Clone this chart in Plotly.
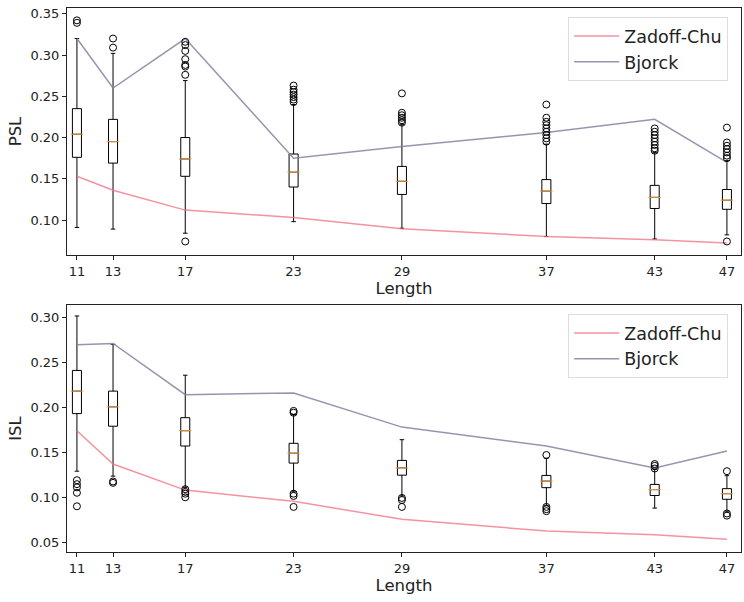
import plotly.graph_objects as go
from plotly.subplots import make_subplots

LENGTHS = [11, 13, 17, 23, 29, 37, 43, 47]

# PSL box statistics
PSL_LOW = [0.091, 0.089, 0.084, 0.098, 0.090, 0.080, 0.077, 0.082]
PSL_Q1 = [0.176, 0.169, 0.153, 0.140, 0.131, 0.120, 0.114, 0.113]
PSL_MED = [0.204, 0.195, 0.174, 0.158, 0.147, 0.135, 0.1275, 0.124]
PSL_Q3 = [0.235, 0.222, 0.200, 0.180, 0.165, 0.149, 0.142, 0.137]
PSL_HIGH = [0.320, 0.302, 0.269, 0.240, 0.216, 0.192, 0.182, 0.172]
PSL_OUT = [
    [0.342, 0.339],
    [0.320, 0.309],
    [0.316, 0.312, 0.305, 0.295, 0.288, 0.286, 0.276, 0.074],
    [0.263, 0.258, 0.255, 0.252, 0.249, 0.246, 0.243],
    [0.2535, 0.230, 0.227, 0.224, 0.221, 0.218],
    [0.240, 0.224, 0.219, 0.215, 0.211, 0.207, 0.203, 0.199, 0.195],
    [0.211, 0.207, 0.203, 0.199, 0.195, 0.191, 0.187, 0.184],
    [0.212, 0.194, 0.190, 0.186, 0.182, 0.178, 0.175, 0.074],
]
PSL_ZC = [0.153, 0.136, 0.112, 0.103, 0.0895, 0.080, 0.076, 0.072]
PSL_BJ = [0.320, 0.260, 0.320, 0.175, 0.189, 0.206, 0.222, 0.170]

# ISL box statistics
ISL_LOW = [0.129, 0.1235, 0.111, 0.106, 0.1015, 0.091, 0.088, 0.0838]
ISL_Q1 = [0.193, 0.179, 0.157, 0.138, 0.1246, 0.1107, 0.102, 0.0978]
ISL_MED = [0.218, 0.2005, 0.174, 0.149, 0.1327, 0.118, 0.1085, 0.104]
ISL_Q3 = [0.241, 0.218, 0.1885, 0.160, 0.141, 0.1243, 0.1143, 0.1096]
ISL_HIGH = [0.3015, 0.270, 0.2357, 0.192, 0.164, 0.1434, 0.131, 0.124]
ISL_OUT = [
    [0.119, 0.1146, 0.111, 0.105, 0.090],
    [0.1176, 0.116],
    [0.109, 0.106, 0.104, 0.100],
    [0.196, 0.194, 0.104, 0.1015, 0.0893],
    [0.0993, 0.097, 0.0893],
    [0.147, 0.0893, 0.0868, 0.0846],
    [0.137, 0.135, 0.132],
    [0.129, 0.082, 0.0796],
]
ISL_ZC = [0.174, 0.137, 0.108, 0.0955, 0.0755, 0.0625, 0.0585, 0.0535]
ISL_BJ = [0.2695, 0.271, 0.214, 0.216, 0.178, 0.157, 0.1325, 0.1515]

ZC_COLOR = "rgba(240,110,130,0.75)"
BJ_COLOR = "rgba(130,132,160,0.85)"
MED_COLOR = "#f0a040"
FONT = "DejaVu Sans"

fig = make_subplots(rows=2, cols=1, vertical_spacing=50 / 544)


def add_panel(row, low, q1, med, q3, high, outliers, zc, bj, legend):
    fig.add_trace(go.Scatter(
        x=LENGTHS, y=zc, mode="lines", name="Zadoff-Chu",
        line=dict(color=ZC_COLOR, width=1.5), legend=legend,
    ), row=row, col=1)
    fig.add_trace(go.Scatter(
        x=LENGTHS, y=bj, mode="lines", name="Bjorck",
        line=dict(color=BJ_COLOR, width=1.5), legend=legend,
    ), row=row, col=1)
    fig.add_trace(go.Box(
        x=LENGTHS, q1=q1, median=med, q3=q3,
        lowerfence=low, upperfence=high,
        width=0.5, whiskerwidth=0.5, boxpoints=False,
        line=dict(color="black", width=1),
        fillcolor="rgba(255,255,255,0)", showlegend=False,
    ), row=row, col=1)
    fig.add_trace(go.Scatter(
        x=LENGTHS, y=med, mode="markers", showlegend=False,
        marker=dict(symbol="line-ew", size=9,
                    line=dict(color=MED_COLOR, width=1)),
    ), row=row, col=1)
    ox, oy = [], []
    for pos, vals in zip(LENGTHS, outliers):
        ox += [pos] * len(vals)
        oy += vals
    fig.add_trace(go.Scatter(
        x=ox, y=oy, mode="markers", showlegend=False,
        marker=dict(symbol="circle-open", size=7,
                    color="black", line=dict(width=1)),
    ), row=row, col=1)


add_panel(1, PSL_LOW, PSL_Q1, PSL_MED, PSL_Q3, PSL_HIGH, PSL_OUT,
          PSL_ZC, PSL_BJ, "legend")
add_panel(2, ISL_LOW, ISL_Q1, ISL_MED, ISL_Q3, ISL_HIGH, ISL_OUT,
          ISL_ZC, ISL_BJ, "legend2")

axis_style = dict(
    showline=True, mirror=True, linecolor="#222222", linewidth=1,
    ticks="outside", ticklen=4, tickcolor="#222222", showgrid=False,
    zeroline=False, tickfont=dict(size=13, color="#222222"),
)
fig.update_xaxes(
    range=[10.45, 47.78], tickvals=LENGTHS,
    title=dict(text="Length", font=dict(size=16.5, color="#222222"), standoff=2),
    **axis_style,
)
fig.update_yaxes(
    title_font=dict(size=16.5, color="#222222"), title_standoff=4,
    **axis_style,
)
fig.update_yaxes(range=[0.0576, 0.357], tickvals=[0.10, 0.15, 0.20, 0.25, 0.30, 0.35],
                 tickformat=".2f", title_text="PSL", row=1, col=1)
fig.update_yaxes(range=[0.0392, 0.3137], tickvals=[0.05, 0.10, 0.15, 0.20, 0.25, 0.30],
                 tickformat=".2f", title_text="ISL", row=2, col=1)

legend_style = dict(
    xanchor="right", yanchor="top", x=0.981, itemwidth=45,
    bgcolor="rgba(255,255,255,0.8)", bordercolor="#dddddd", borderwidth=1,
    font=dict(size=17.5, color="#222222"), tracegroupgap=0,
)
fig.update_layout(
    width=744, height=602,
    margin=dict(l=67, r=3, t=8, b=50),
    plot_bgcolor="white", paper_bgcolor="white",
    font=dict(family=FONT),
    legend=dict(y=0.983, **legend_style),
    legend2=dict(y=0.4375, **legend_style),
    boxmode="overlay",
)

fig.write_html("out.html", config={"displayModeBar": False},
               post_script="document.body.style.margin='0';")
